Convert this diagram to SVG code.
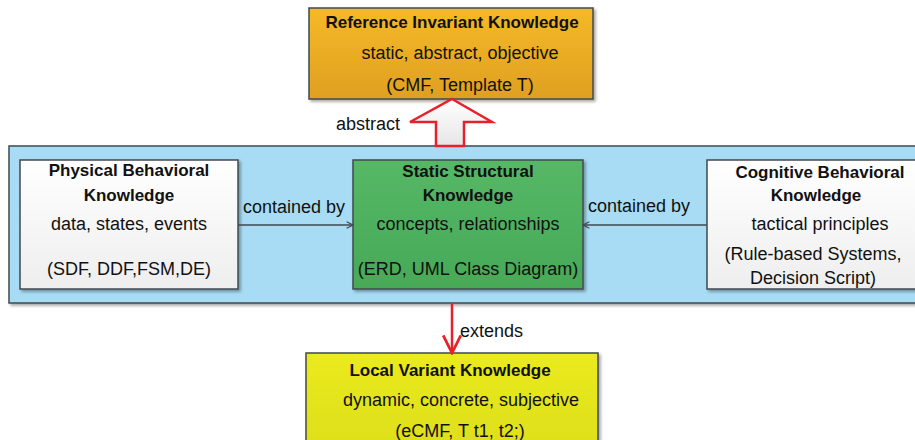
<svg xmlns="http://www.w3.org/2000/svg" width="915" height="440" viewBox="0 0 915 440">
<defs>
<linearGradient id="gOrange" x1="0" y1="0" x2="0" y2="1"><stop offset="0" stop-color="#f5b928"/><stop offset="1" stop-color="#dfa020"/></linearGradient>
<linearGradient id="gWhite" x1="0" y1="0" x2="0" y2="1"><stop offset="0" stop-color="#ffffff"/><stop offset="1" stop-color="#eeeeee"/></linearGradient>
<linearGradient id="gGreen" x1="0" y1="0" x2="0" y2="1"><stop offset="0" stop-color="#55b866"/><stop offset="1" stop-color="#47a957"/></linearGradient>
<linearGradient id="gYellow" x1="0" y1="0" x2="0" y2="1"><stop offset="0" stop-color="#eaea20"/><stop offset="1" stop-color="#dede18"/></linearGradient>
<linearGradient id="gArrow" x1="0" y1="0" x2="0" y2="1"><stop offset="0" stop-color="#ffffff"/><stop offset="1" stop-color="#e6e6e6"/></linearGradient>
<filter id="sh" x="-5%" y="-5%" width="115%" height="120%"><feDropShadow dx="2" dy="2" stdDeviation="1.5" flood-color="#000" flood-opacity="0.35"/></filter>
<marker id="mGray" viewBox="0 0 10 10" refX="9" refY="5" markerWidth="8" markerHeight="8" orient="auto" markerUnits="userSpaceOnUse"><path d="M1,1 L9,5 L1,9" fill="none" stroke="#3f4a52" stroke-width="1.5"/></marker>
<marker id="mRed" viewBox="0 0 20 20" refX="18" refY="10" markerWidth="22" markerHeight="22" orient="auto" markerUnits="userSpaceOnUse"><path d="M2,2 L18,10 L2,18" fill="none" stroke="#e8202a" stroke-width="2.5"/></marker>
</defs>
<style>
.box{stroke:#404a50;stroke-width:1.5}
text{font-family:"Liberation Sans",Arial,sans-serif;font-size:18px;fill:#111;text-anchor:middle}
.b{font-weight:bold;font-size:17px}
.lbl{text-anchor:start}
</style>
<rect width="915" height="440" fill="#ffffff"/>
<g id="band">
<rect x="9" y="146" width="910" height="157" fill="#a7dcf4" class="box" filter="url(#sh)"/>
</g>
<g id="reference">
<rect x="309" y="8" width="284" height="91" fill="url(#gOrange)" class="box" filter="url(#sh)"/>
<text x="452" y="28" class="b">Reference Invariant Knowledge</text>
<text x="460" y="59">static, abstract, objective</text>
<text x="460" y="91">(CMF, Template T)</text>
</g>
<g id="physical">
<rect x="20" y="160" width="218" height="129" fill="url(#gWhite)" class="box" filter="url(#sh)"/>
<text x="129" y="176" class="b">Physical Behavioral</text>
<text x="129" y="201" class="b">Knowledge</text>
<text x="129" y="230">data, states, events</text>
<text x="129" y="275">(SDF, DDF,FSM,DE)</text>
</g>
<g id="static">
<rect x="353" y="160" width="230" height="129" fill="url(#gGreen)" class="box" filter="url(#sh)"/>
<text x="468" y="177" class="b">Static Structural</text>
<text x="468" y="201" class="b">Knowledge</text>
<text x="468" y="230">concepts, relationships</text>
<text x="468" y="275">(ERD, UML Class Diagram)</text>
</g>
<g id="cognitive">
<rect x="707" y="160" width="215" height="129" fill="url(#gWhite)" class="box" filter="url(#sh)"/>
<text x="820" y="178" class="b">Cognitive Behavioral</text>
<text x="816" y="201" class="b">Knowledge</text>
<text x="820" y="230">tactical principles</text>
<text x="813" y="260">(Rule-based Systems,</text>
<text x="813" y="284">Decision Script)</text>
</g>
<g id="local">
<rect x="306" y="353" width="292" height="100" fill="url(#gYellow)" class="box" filter="url(#sh)"/>
<text x="450" y="376" class="b">Local Variant Knowledge</text>
<text x="461" y="406">dynamic, concrete, subjective</text>
<text x="460" y="437">(eCMF, T t1, t2;)</text>
</g>
<g id="connectors">
<path d="M452,99 L492,122 L464,122 L464,146 L436,146 L436,122 L410,122 Z" fill="url(#gArrow)" stroke="#e8202a" stroke-width="2.5" stroke-linejoin="miter"/>
<line x1="238" y1="225" x2="353" y2="225" stroke="#3f4a52" stroke-width="1.5" marker-end="url(#mGray)"/>
<line x1="707" y1="225" x2="583" y2="225" stroke="#3f4a52" stroke-width="1.5" marker-end="url(#mGray)"/>
<line x1="452" y1="303" x2="452" y2="353" stroke="#e8202a" stroke-width="2.5" marker-end="url(#mRed)"/>
<text x="336" y="130" class="lbl">abstract</text>
<text x="243" y="213" class="lbl">contained by</text>
<text x="588" y="212" class="lbl">contained by</text>
<text x="460" y="337" class="lbl">extends</text>
</g>
</svg>
